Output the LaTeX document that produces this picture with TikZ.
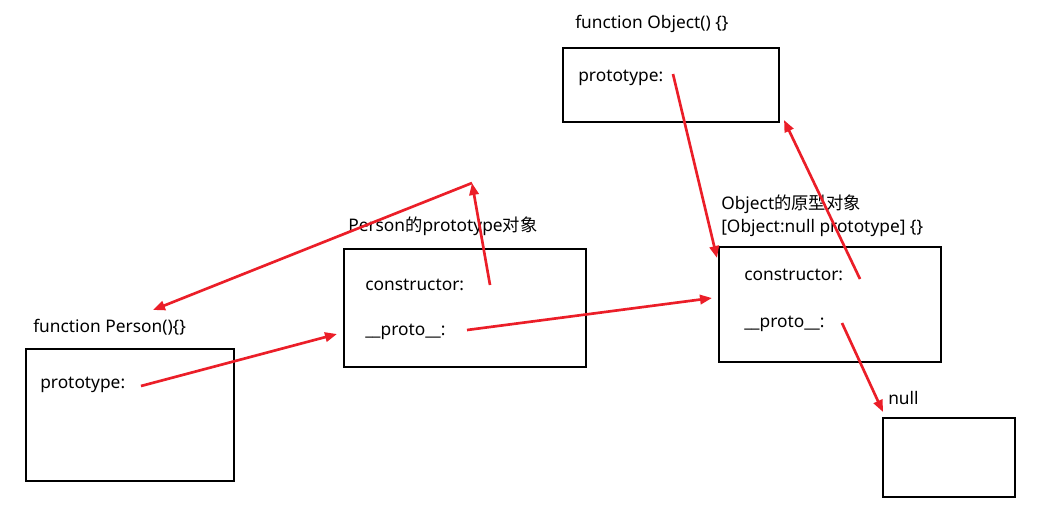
\documentclass[tikz,border=0pt]{standalone}
\usepackage{fontspec}
\setmainfont{Noto Sans}
\newfontfamily\cjk{Noto Sans CJK SC}
\usetikzlibrary{arrows.meta,fit}
\definecolor{linkred}{RGB}{235,30,40}
\tikzset{
 box/.style={draw, line width=1.5pt, inner sep=0pt},
 lbl/.style={anchor=base west, inner sep=0pt, font=\fontsize{13}{15}\selectfont},
 link/.style={draw=linkred, line width=2pt, -{Triangle[length=9pt,width=7pt]}}
}
\begin{document}
\begin{tikzpicture}[x=0.75pt,y=-0.75pt]
 \useasboundingbox (0,0) rectangle (1045,526);
 % boxes
 \node[box, fit={(26,349) (234,481)}] (personfn) {};
 \node[box, fit={(344,249) (586,367)}] (personproto) {};
 \node[box, fit={(563,48) (779,122)}] (objectfn) {};
 \node[box, fit={(719,247) (941,362)}] (objectproto) {};
 \node[box, fit={(883,418) (1015,497)}] (nullbox) {};
 % texts
 \node[lbl] (personname) at (33,332) {function Person()\{\}};
 \node[lbl] (personptype) at (40,388) {prototype:};
 \node[lbl] (pprotoname) at (348,231) {Person{\cjk 的}prototype{\cjk 对象}};
 \node[lbl] (pprotoctor) at (365,290) {constructor:};
 \node[lbl] (pprotolink) at (365,335) {\_\_proto\_\_:};
 \node[lbl] (objectname) at (575,28) {function Object() \{\}};
 \node[lbl] (objectptype) at (578,81) {prototype:};
 \node[lbl] (oprotoname) at (721,209) {Object{\cjk 的原型对象}};
 \node[lbl] (oprototag) at (721,232) {[Object:null prototype] \{\}};
 \node[lbl] (oprotoctor) at (744,280) {constructor:};
 \node[lbl] (oprotolink) at (744,327) {\_\_proto\_\_:};
 \node[lbl] (nullname) at (888,404) {null};
 % link ends
 \coordinate (ptypefrom) at (141,386);
 \coordinate (ptypeto) at (337,334);
 \coordinate (pctorfrom) at (490,285);
 \coordinate (pctorbend) at (472,183);
 \coordinate (pctorto) at (153,310);
 \coordinate (plinkfrom) at (467,330);
 \coordinate (plinkto) at (712,298);
 \coordinate (optypefrom) at (673,74);
 \coordinate (optypeto) at (717,258);
 \coordinate (octorfrom) at (860,279);
 \coordinate (octorto) at (784,120);
 \coordinate (olinkfrom) at (842,323);
 \coordinate (olinkto) at (883,412);
 % links
 \draw[link] (ptypefrom) -- (ptypeto);
 \draw[link] (pctorfrom) -- (pctorbend);
 \draw[link] (pctorbend) -- (pctorto);
 \draw[link] (plinkfrom) -- (plinkto);
 \draw[link] (optypefrom) -- (optypeto);
 \draw[link] (octorfrom) -- (octorto);
 \draw[link] (olinkfrom) -- (olinkto);
\end{tikzpicture}
\end{document}
